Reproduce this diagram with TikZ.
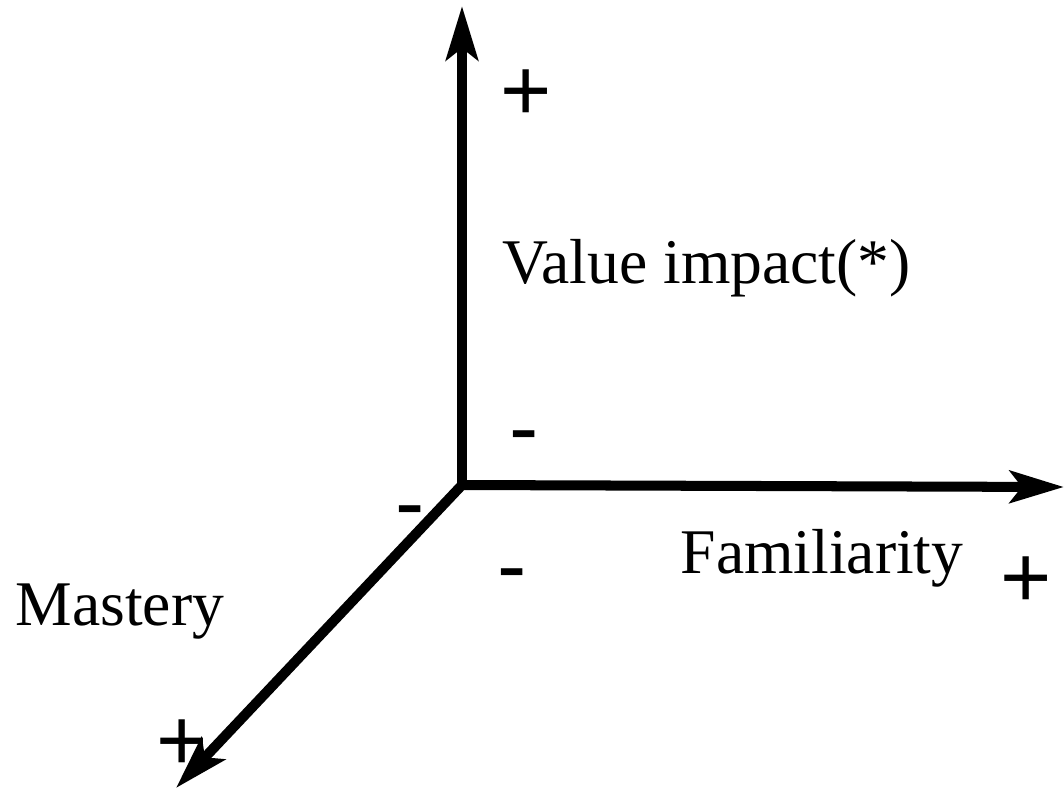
\documentclass[tikz,border=0pt]{standalone}
\usepackage{fontspec}
\setmainfont{Liberation Serif}
\newfontfamily\signfont{Liberation Sans}
\usepackage{tikz}
\usetikzlibrary{arrows.meta}
\newcommand{\axisfont}{\fontsize{18.1}{21}\selectfont}
\newcommand{\signsize}{\signfont\fontsize{25}{28}\selectfont}

\begin{document}
\begin{tikzpicture}[
    axis/.style={line width=2.85pt,-{Stealth[length=5.4mm,width=3.2mm,inset=1.2mm]}},
    axislabel/.style={anchor=base west,inner sep=0pt,font=\axisfont},
    sign/.style={anchor=base,inner sep=0pt,font=\signsize}]
  \useasboundingbox (0,0) rectangle (10.64,-7.87);
  %% origin and axis tips
  \coordinate (origin) at (4.62,-4.85);
  \coordinate (valtip) at (4.62,-0.06);
  \coordinate (famtip) at (10.64,-4.87);
  \coordinate (mastip) at (1.76,-7.88);
  \draw[axis] (origin) -- (valtip);
  \draw[axis] (origin) -- (famtip);
  \draw[axis] (origin) -- (mastip);
  %% axis names
  \node[axislabel] (value) at (5.02,-2.83) {Value impact(*)};
  \node[axislabel] (famil) at (6.80,-5.73) {Familiarity};
  \node[axislabel] (maste) at (0.15,-6.25) {Mastery};
  %% ends of each axis
  \node[sign] (valplus) at (5.26,-1.20) {+};
  \node[sign] (valminus) at (5.24,-4.57) {-};
  \node[sign] (famplus) at (10.26,-6.07) {+};
  \node[sign] (famminus) at (5.12,-5.95) {-};
  \node[sign] (masplus) at (1.82,-7.70) {+};
  \node[sign] (masminus) at (4.10,-5.32) {-};
\end{tikzpicture}
\end{document}
